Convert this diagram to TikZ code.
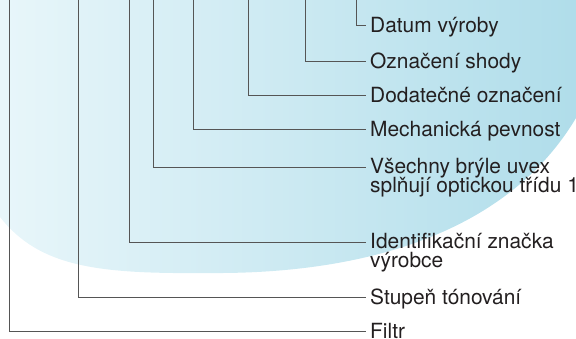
\documentclass[tikz,border=0pt]{standalone}
\usepackage{fontspec}
\setmainfont{TeX Gyre Heros}
\definecolor{lensleft}{RGB}{232,246,250}
\definecolor{lensright}{RGB}{176,221,234}
\definecolor{leader}{RGB}{85,85,85}
\definecolor{ink}{RGB}{35,31,32}
\newcommand\lblfont{\fontsize{20.9}{18.5}\selectfont\lineskiplimit=-20pt\relax}

\begin{document}
\begin{tikzpicture}[x=1pt, y=-1pt,
    lbl/.style={anchor=base west, inner xsep=4pt, inner ysep=0pt, text=ink, align=left,
        font=\lblfont},
    conn/.style={draw=leader, line width=0.9pt}]
        \useasboundingbox (0,0) rectangle (576,338);
        % lens
        \shade[left color=lensleft, right color=lensright]
            (0,0) -- (0,217) .. controls (40,268) and (100,274) .. (210,273)
            .. controls (340,274) and (500,245) .. (576,118) -- (576,0) -- cycle;

        \coordinate (tdatum) at (356,0);
        \coordinate (tshoda) at (305,0);
        \coordinate (tdodat) at (248,0);
        \coordinate (tmech) at (193,0);
        \coordinate (ttrida) at (153.5,0);
        \coordinate (tznacka) at (129,0);
        \coordinate (tton) at (78,0);
        \coordinate (tfiltr) at (9.5,0);

        \node[lbl] (datum) at (366,32) {Datum výroby};
        \node[lbl] (shoda) at (366,68.5) {Označení shody};
        \node[lbl] (dodat) at (366,102) {Dodatečné označení};
        \node[lbl] (mech) at (366,136) {Mechanická pevnost};
        \node[lbl] (trida) at (366,192) {Všechny brýle uvex\\splňují optickou třídu 1};
        \node[lbl] (znacka) at (366,267) {Identifikační značka\\výrobce};
        \node[lbl] (ton) at (366,304) {Stupeň tónování};
        \node[lbl] (filtr) at (366,338) {Filtr};

        % base of a two-line label is its last line
        \foreach \n/\d in {datum/7,shoda/7,dodat/7,mech/7,trida/25,znacka/25,ton/7,filtr/7}
            \draw[conn] (t\n) |- ([yshift=\d pt]\n.base west);
    \end{tikzpicture}
\end{document}
